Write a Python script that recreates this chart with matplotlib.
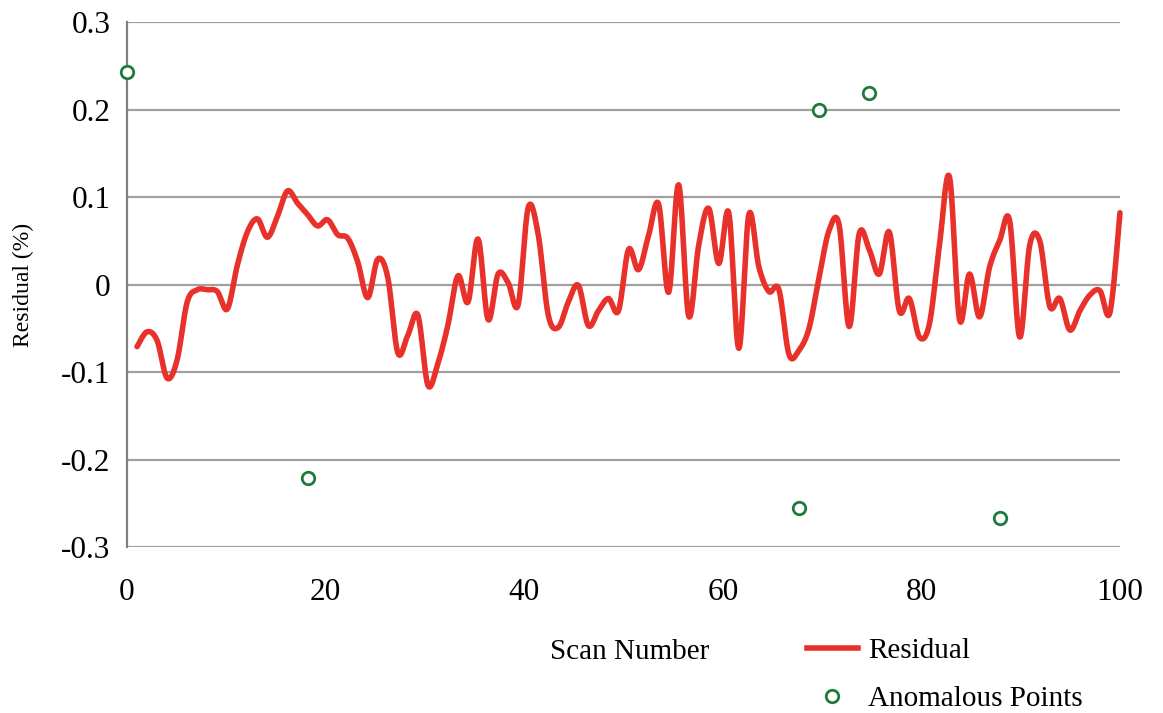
import numpy as np
import matplotlib
matplotlib.use('Agg')
import matplotlib.pyplot as plt
from matplotlib.lines import Line2D

# residual per scan (scans 1-99), in percent
scan = np.arange(1, 100)
residual = [
    -0.071, -0.054, -0.064, -0.107, -0.086, -0.020, -0.006, -0.006, -0.008, -0.028,
    0.022, 0.060, 0.075, 0.054, 0.078, 0.107, 0.093, 0.080, 0.067, 0.074,
    0.057, 0.053, 0.026, -0.015, 0.029, 0.008, -0.078, -0.058, -0.035, -0.115,
    -0.090, -0.046, 0.010, -0.020, 0.052, -0.040, 0.012, 0.002, -0.023, 0.088,
    0.057, -0.035, -0.049, -0.020, -0.001, -0.047, -0.030, -0.016, -0.030, 0.040,
    0.017, 0.056, 0.092, -0.009, 0.114, -0.036, 0.045, 0.087, 0.024, 0.082,
    -0.073, 0.080, 0.020, -0.008, -0.006, -0.080, -0.075, -0.050, 0.008, 0.062,
    0.068, -0.048, 0.058, 0.040, 0.012, 0.060, -0.030, -0.016, -0.060, -0.045,
    0.045, 0.123, -0.040, 0.012, -0.037, 0.020, 0.050, 0.073, -0.060, 0.045,
    0.050, -0.025, -0.016, -0.052, -0.030, -0.012, -0.007, -0.032, 0.082,
]

# scans flagged as anomalous and left out of the residual line
anom_scan = [0, 18, 67, 69, 74, 87]
anom_value = [0.243, -0.221, -0.255, 0.199, 0.219, -0.267]

x_ticks = [0, 20, 40, 60, 80, 100]
y_ticks = [-0.3, -0.2, -0.1, 0.0, 0.1, 0.2, 0.3]
y_tick_labels = ['-0.3', '-0.2', '-0.1', '0', '0.1', '0.2', '0.3']

RED = '#e8312a'
GREEN = '#1f7a3c'
GRID = '#a0a0a0'


def smooth(x, y, steps=16):
    """Smoothed line through every point (cubic Bezier, Catmull-Rom handles)."""
    x = np.asarray(x, float)
    y = np.asarray(y, float)
    qx = np.concatenate([[x[0]], x, [x[-1]]])
    qy = np.concatenate([[y[0]], y, [y[-1]]])
    t = np.linspace(0, 1, steps, endpoint=False)[:, None]
    out = []
    for q in (qx, qy):
        a = q[1:-2]
        b = q[2:-1]
        c1 = a + (q[2:-1] - q[:-3]) / 6
        c2 = b - (q[3:] - q[1:-2]) / 6
        seg = ((1 - t) ** 3 * a + 3 * (1 - t) ** 2 * t * c1
               + 3 * (1 - t) * t ** 2 * c2 + t ** 3 * b)
        out.append(np.append(seg.T.ravel(), q[-2]))
    return out


plt.rcParams['font.family'] = ['Liberation Serif', 'DejaVu Serif']

fig = plt.figure(figsize=(11.63, 7.13), dpi=100)
ax = fig.add_axes([0.1092, 0.2328, 0.9630 - 0.1092, 0.9691 - 0.2328])

# scans 0..99 are spread over the full 0..100 scale width
ax.set_xlim(0, 99)
ax.set_ylim(-0.3, 0.3)

sx, sy = smooth(scan, residual)
ax.plot(sx, sy, color=RED, lw=4.0, solid_capstyle='round', clip_on=False,
        zorder=3)
ax.plot(anom_scan, anom_value, ls='none', marker='o', ms=9, mfc='white',
        mec=GREEN, mew=2.0, clip_on=False, zorder=4)

ax.set_yticks(y_ticks)
ax.set_yticklabels(y_tick_labels)
ax.yaxis.grid(True, color=GRID, lw=1.6)
ax.set_axisbelow(True)
ax.tick_params(axis='y', length=0, pad=12, labelsize=22.5)
ax.set_xticks([])

for side in ('top', 'right', 'bottom'):
    ax.spines[side].set_visible(False)
ax.spines['left'].set_color('#808080')
ax.spines['left'].set_linewidth(1.6)

sec = ax.secondary_xaxis('bottom', functions=(lambda n: n * 100 / 99,
                                              lambda v: v * 99 / 100))
sec.set_xticks(x_ticks)
sec.tick_params(axis='x', length=0, pad=22, labelsize=22.5)
sec.spines['bottom'].set_visible(False)

fig.text(0.020, 0.600, 'Residual (%)', fontsize=17, rotation=90,
         ha='center', va='center')
fig.text(0.5417, 0.0862, 'Scan Number', fontsize=21, ha='center', va='center')

handles = [
    Line2D([], [], color=RED, lw=4.0),
    Line2D([], [], ls='none', marker='o', ms=9, mfc='white', mec=GREEN,
           mew=2.0),
]
fig.legend(handles, ['Residual', 'Anomalous Points'], loc='upper left',
           bbox_to_anchor=(0.681, 0.1265), frameon=False, fontsize=21,
           borderpad=0, handlelength=1.75, handletextpad=0.35,
           labelspacing=0.75)

fig.savefig('out.png', dpi=100)
